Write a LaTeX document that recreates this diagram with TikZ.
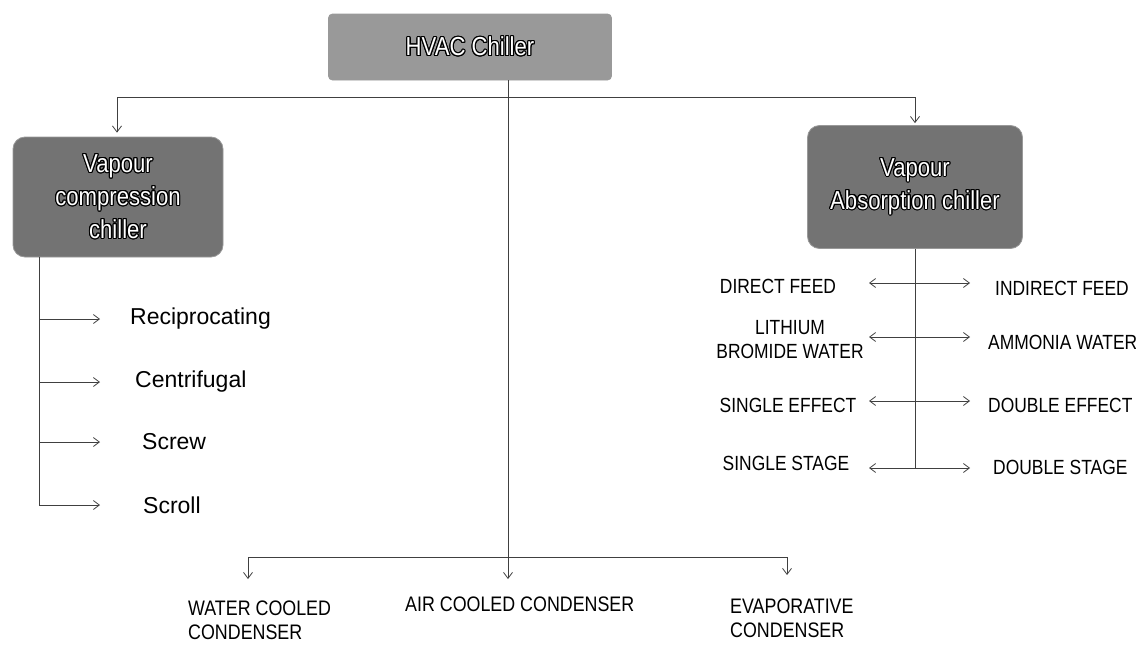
\documentclass[tikz,border=0pt]{standalone}
\usepackage{fontspec}
\setmainfont{Liberation Sans}
\newfontfamily\narrowsf{Liberation Sans}[FakeStretch=0.85]
\usepackage[copies]{contour}
\contourlength{1.1pt}
\usetikzlibrary{arrows.meta,positioning}

\newcommand{\boxtext}[1]{\contour{black}{#1}}

\tikzset{
  chillerbox/.style={rounded corners=12pt, fill=black!55, draw=black!40, line width=0.8pt,
    align=center, text=white, font=\narrowsf\fontsize{26}{33}\selectfont},
  topbox/.style={chillerbox, rounded corners=4pt, fill=black!40,
    minimum width=283pt, minimum height=66pt},
  link/.style={draw=black!75, line width=0.8pt},
  arr/.style={link, -{Straight Barb[length=6pt,width=9pt]}},
  typelabel/.style={font=\fontsize{23}{26}\selectfont, anchor=west, inner sep=0pt},
  caplabel/.style={font=\narrowsf\fontsize{20.5}{24}\selectfont, inner sep=0pt, align=center},
  condlabel/.style={font=\narrowsf\fontsize{21}{24}\selectfont, inner sep=0pt,
    align=left, anchor=north west},
}

\begin{document}
\begin{tikzpicture}[x=1pt, y=-1pt]
    \useasboundingbox (0,0) rectangle (1136,648);

    % boxes
    \node[topbox] (hvac) at (470,47) {\boxtext{HVAC Chiller}};
    \node[chillerbox, minimum width=210pt, minimum height=120pt] (vcc) at (118,197)
        {\boxtext{Vapour}\\\boxtext{compression}\\\boxtext{chiller}};
    \node[chillerbox, minimum width=215pt, minimum height=123pt] (vac) at (915,187)
        {\boxtext{Vapour}\\\boxtext{Absorption chiller}};

    % top split
    \coordinate (trunk) at (508,0 |- hvac.south);
    \coordinate (busL) at (117,97);
    \coordinate (busR) at (vac.north |- busL);
    \draw[link] (busL) -- (busR);
    \draw[arr, shorten >=4pt] (busL) -- (busL |- vcc.north);
    \draw[arr, shorten >=2pt] (busR) -- (vac.north);

    % condensers
    \node[condlabel] (water) at (188,601) {WATER COOLED\\CONDENSER};
    \node[condlabel] (air) at (405,597) {AIR COOLED CONDENSER};
    \node[condlabel] (evap) at (730,599) {EVAPORATIVE\\CONDENSER};
    \coordinate (cbusL) at (248,557);
    \coordinate (cbusR) at (787,557);
    \draw[link] (cbusL) -- (cbusR);
    \draw[arr, shorten >=18pt] (trunk) -- (trunk |- air.north);
    \draw[arr, shorten >=22pt] (cbusL) -- (cbusL |- water.north);
    \draw[arr, shorten >=24pt] (cbusR) -- (cbusR |- evap.north);

    % vapour compression types
    \coordinate (vstem) at (39,0 |- vcc.south);
    \coordinate (vtip) at (100,0);
    \foreach \name/\txt/\xx/\yy in {recip/Reciprocating/130/319, centri/Centrifugal/135/382,
                                    screw/Screw/142/442, scroll/Scroll/143/505} {
        \node[typelabel] (\name) at (\xx,\yy) {\txt};
        \draw[arr] (vstem |- \name.west) -- (vtip |- \name.west);
    }
    \draw[link] (vstem) -- (vstem |- scroll.west);

    % vapour absorption types
    \node[caplabel] (direct) at (778,286) {DIRECT FEED};
    \node[caplabel] (lithium) at (790,340) {LITHIUM\\BROMIDE WATER};
    \node[caplabel] (seffect) at (788,405) {SINGLE EFFECT};
    \node[caplabel] (sstage) at (786,463) {SINGLE STAGE};
    \node[caplabel, anchor=west] (indirect) at (995,288) {INDIRECT FEED};
    \node[caplabel, anchor=west] (ammonia) at (988,342) {AMMONIA WATER};
    \node[caplabel, anchor=west] (deffect) at (988,405) {DOUBLE EFFECT};
    \node[caplabel, anchor=west] (dstage) at (993,467) {DOUBLE STAGE};

    \coordinate (ltip) at (869,0);
    \coordinate (rtip) at (970,0);
    \foreach \j/\yy in {1/283, 2/337, 3/401, 4/468} {
        \coordinate (j\j) at (vac.south |- 0,\yy);
        \draw[arr] (j\j) -- (j\j -| ltip);
        \draw[arr] (j\j) -- (j\j -| rtip);
    }
    \draw[link] (vac.south) -- (j4);
\end{tikzpicture}
\end{document}
